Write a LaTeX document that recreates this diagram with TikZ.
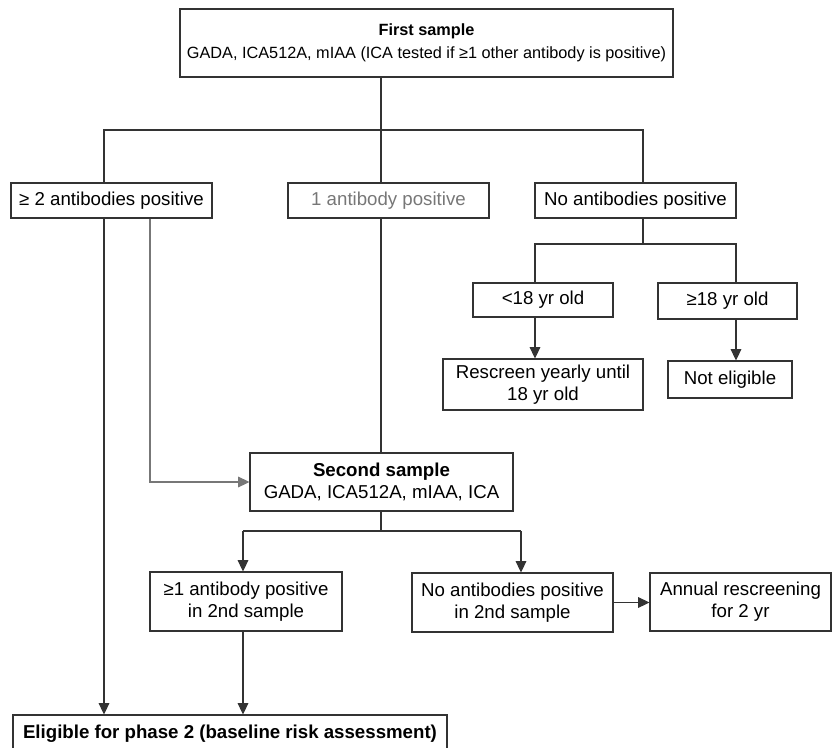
\documentclass[tikz,border=0pt]{standalone}
\usepackage{fontspec}
\setmainfont{Liberation Sans}
\usetikzlibrary{arrows.meta}
\definecolor{linegray}{HTML}{333333}
\definecolor{softgray}{HTML}{777777}
\begin{document}
\begin{tikzpicture}[x=0.75pt,y=-0.75pt,
    box/.style={draw=linegray,line width=0.8pt,align=center,inner sep=0pt,
      font=\fontsize{14}{16.5}\selectfont},
    dims/.style 2 args={minimum width=#1*0.75pt,minimum height=#2*0.75pt},
    link/.style={draw=linegray,line width=0.85pt},
    arr/.style={link,-{Triangle[length=8.5pt,width=8pt]}}]
    \useasboundingbox (0,0) rectangle (832,747);
    % boxes
    \node[box,dims={493}{68},font=\fontsize{12.2}{15}\selectfont] (first) at (426.5,43)
        {\textbf{First sample}\\[2pt]GADA, ICA512A, mIAA (ICA tested if ≥1 other antibody is positive)};
    \node[box,dims={201}{35}] (two) at (111.5,200.5) {≥ 2 antibodies positive};
    \node[box,dims={201}{35},text=softgray] (one) at (388.5,200.5) {1 antibody positive};
    \node[box,dims={201}{35}] (none) at (635.5,200.5) {No antibodies positive};
    \node[box,dims={140}{34}] (young) at (543,300) {<18 yr old};
    \node[box,dims={139}{36}] (old) at (727.5,301) {≥18 yr old};
    \node[box,dims={200}{51}] (rescreen) at (543,384.5) {Rescreen yearly until\\18 yr old};
    \node[box,dims={124}{37}] (noelig) at (730,379.5) {Not eligible};
    \node[box,dims={263}{58}] (second) at (381.5,482) {\textbf{Second sample}\\GADA, ICA512A, mIAA, ICA};
    \node[box,dims={192}{59}] (pos2) at (246,601.5) {≥1 antibody positive\\in 2nd sample};
    \node[box,dims={201}{59}] (neg2) at (512.5,602.5) {No antibodies positive\\in 2nd sample};
    \node[box,dims={181}{58}] (annual) at (740.5,602) {Annual rescreening\\for 2 yr};
    \node[box,dims={434}{37}] (elig) at (230,733.5) {\textbf{Eligible for phase 2 (baseline risk assessment)}};
    % connectors
    \coordinate (mid) at (381,130);
    \coordinate (busL) at (104,130);
    \coordinate (busR) at (643,130);
    \coordinate (grayx) at (150,481);
    \coordinate (ageL) at (535,244);
    \coordinate (ageR) at (736,244);
    \coordinate (resL) at (243,531);
    \coordinate (resR) at (521,531);
    \draw[link] (first.south -| mid) -- (mid);
    \draw[link] (two.north -| busL) -- (busL) -- (busR) -- (none.north -| busR);
    \draw[link] (mid) -- (one.north -| mid);
    \draw[link] (one.south -| mid) -- (second.north -| mid);
    \draw[arr] (two.south -| busL) -- (elig.north -| busL);
    \draw[arr,draw=softgray,color=softgray] (two.south -| grayx) |- (second.west);
    \draw[link] (none.south -| busR) -- (busR |- ageL);
    \draw[link] (young.north -| ageL) -- (ageL) -- (ageR) -- (old.north -| ageR);
    \draw[arr] (young.south -| ageL) -- (rescreen.north -| ageL);
    \draw[arr] (old.south -| ageR) -- (noelig.north -| ageR);
    \draw[link] (second.south -| mid) -- (mid |- resL);
    \draw[link] (resL) -- (resR);
    \draw[arr] (resL) -- (pos2.north -| resL);
    \draw[arr] (resR) -- (neg2.north -| resR);
    \draw[arr] (neg2.east) -- (annual.west |- neg2.east);
    \draw[arr] (pos2.south -| resL) -- (elig.north -| resL);
\end{tikzpicture}
\end{document}
